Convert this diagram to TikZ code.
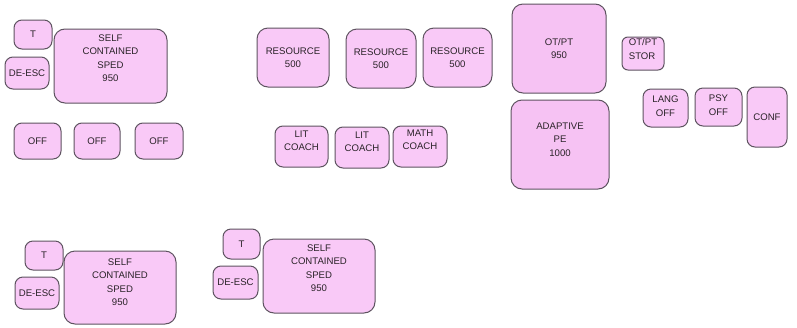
\documentclass[tikz,border=0pt]{standalone}
\usepackage{fontspec}
\setmainfont{Liberation Sans}
\definecolor{boxfill}{HTML}{F9C9F7}
\definecolor{boxfilltex}{HTML}{F6C2F3}
\definecolor{boxline}{HTML}{5E5360}
\definecolor{txt}{HTML}{2A2328}
\tikzset{
  room/.style={draw=boxline, line width=1pt, fill=boxfill, rounded corners=8pt,
    align=center, inner sep=1pt, text=txt, font=\fontsize{9.6}{13.5}\selectfont},
  bigroom/.style={room, fill=boxfilltex, rounded corners=11pt},
  wh/.style 2 args={minimum width=#1pt, minimum height=#2pt},
}
\begin{document}
\begin{tikzpicture}[x=1pt,y=-1pt]
\useasboundingbox (0,0) rectangle (797,327);
% top-left group
\node[room,wh={38}{29}] (t1) at (33,34.5) {T};
\node[room,wh={44}{32}] (de1) at (27,73) {DE-ESC};
\node[room,wh={113}{74},rounded corners=11pt] (sc1) at (110.5,66) {SELF\\CONTAINED\\SPED\\950\\[2.5pt]};
\node[room,wh={47}{36}] (off1) at (37.5,141) {OFF};
\node[room,wh={46}{36}] (off2) at (97,141) {OFF};
\node[room,wh={48}{36}] (off3) at (159,141) {OFF};
% resource
\node[room,wh={72}{59},rounded corners=11pt] (res1) at (293,57.5) {RESOURCE\\500};
\node[room,wh={70}{59},rounded corners=11pt] (res2) at (381,58.5) {RESOURCE\\500};
\node[room,wh={69}{59},rounded corners=11pt] (res3) at (457.5,57.5) {RESOURCE\\500};
\node[room,wh={53}{41}] (lit1) at (301.5,146.5) {LIT\\COACH\\[-1.5pt]};
\node[room,wh={54}{41}] (lit2) at (362,147.5) {LIT\\COACH\\[-1.5pt]};
\node[room,wh={54}{41}] (math) at (420,146.5) {MATH\\COACH\\[0.5pt]};
% right group
\node[bigroom,wh={94}{89}] (otpt) at (559,48.5) {OT/PT\\950};
\node[bigroom,wh={98}{89}] (ape) at (560,144.5) {ADAPTIVE\\PE\\1000\\[-3.5pt]};
\node[room,wh={42}{33},align=left,rounded corners=6pt] (stor) at (643,53.5) {OT/PT\\STOR\\[-4.5pt]};
\node[room,wh={45}{38}] (lang) at (665.5,108) {LANG\\OFF\\[-9.5pt]};
\node[room,wh={47}{38}] (psy) at (718.5,107) {PSY\\OFF\\[-9.5pt]};
\node[room,wh={40}{60}] (conf) at (767,117) {CONF};
% bottom groups
\node[room,wh={38}{29}] (t2) at (44,255.5) {T};
\node[room,wh={44}{32}] (de2) at (37,293) {DE-ESC};
\node[room,wh={112}{73},rounded corners=11pt] (sc2) at (120,287.5) {SELF\\CONTAINED\\SPED\\950\\[-2.5pt]};
\node[room,wh={37}{30}] (t3) at (241.5,244) {T};
\node[room,wh={45}{33}] (de3) at (235.5,282.5) {DE-ESC};
\node[room,wh={112}{74},rounded corners=11pt] (sc3) at (319,276) {SELF\\CONTAINED\\SPED\\950\\[2.5pt]};
\end{tikzpicture}
\end{document}
